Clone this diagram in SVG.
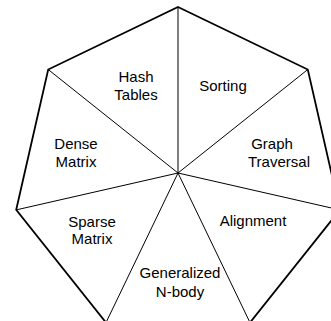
<svg xmlns="http://www.w3.org/2000/svg" width="331" height="321" viewBox="0 0 331 321">
<style>
.o{fill:none;stroke:#000;stroke-width:1.8;stroke-linejoin:miter}
.s{stroke:#000;stroke-width:1}
text{font-family:"Liberation Sans",Arial,sans-serif;font-size:15px;fill:#000;text-anchor:middle}
</style>
<rect width="331" height="321" fill="#fff"/>
<g id="connectors">
<line class="s" x1="178" y1="173" x2="178" y2="7"/>
<line class="s" x1="178" y1="173" x2="307.8" y2="69.5"/>
<line class="s" x1="178" y1="173" x2="339.8" y2="209.9"/>
<line class="s" x1="178" y1="173" x2="250" y2="322.6"/>
<line class="s" x1="178" y1="173" x2="106" y2="322.6"/>
<line class="s" x1="178" y1="173" x2="16.2" y2="209.9"/>
<line class="s" x1="178" y1="173" x2="48.2" y2="69.5"/>
</g>
<g id="outline">
<polygon class="o" points="178,7 307.8,69.5 339.8,209.9 250,322.6 106,322.6 16.2,209.9 48.2,69.5"/>
</g>
<g id="hash"><text x="136" y="82">Hash</text><text x="136" y="100">Tables</text></g>
<g id="sorting"><text x="223" y="91">Sorting</text></g>
<g id="dense"><text x="76" y="149">Dense</text><text x="76" y="167">Matrix</text></g>
<g id="graph"><text x="272" y="149">Graph</text><text x="279" y="167">Traversal</text></g>
<g id="sparse"><text x="92" y="227">Sparse</text><text x="92" y="244">Matrix</text></g>
<g id="alignment"><text x="253" y="226">Alignment</text></g>
<g id="nbody"><text x="180" y="278">Generalized</text><text x="180" y="297">N-body</text></g>
</svg>
